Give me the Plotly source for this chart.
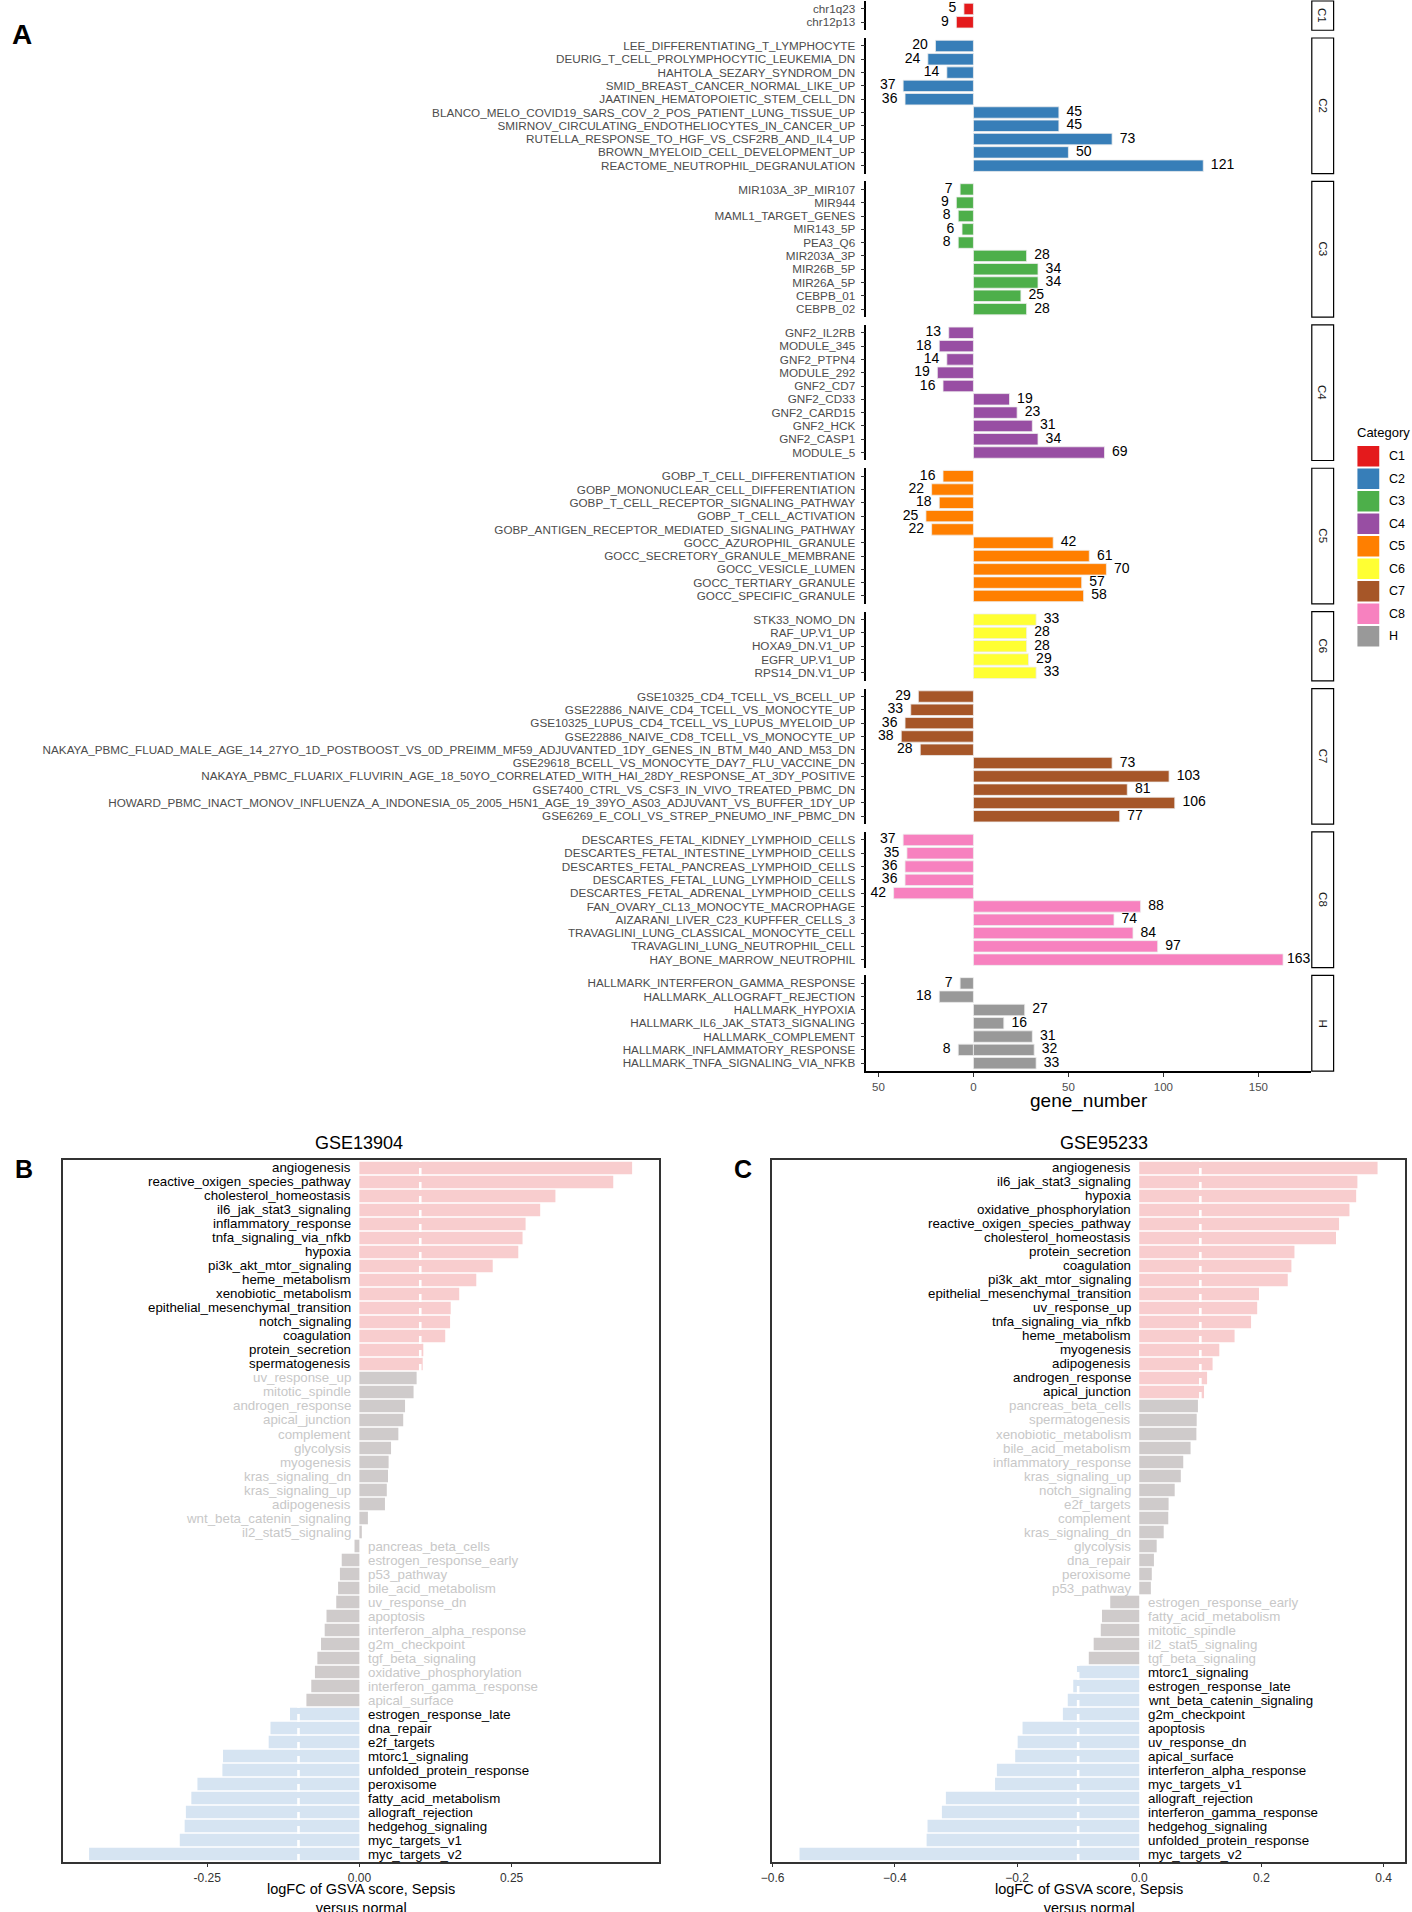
import plotly.graph_objects as go

W, H = 1412, 1912
FONT = "Liberation Sans, Arial, sans-serif"

# ---------------- Panel A data ----------------
categories = ["C1", "C2", "C3", "C4", "C5", "C6", "C7", "C8", "H"]
category_colors = ["#E41A1C", "#377EB8", "#4DAF4A", "#984EA3", "#FF7F00",
                   "#FFFF33", "#A65628", "#F781BF", "#999999"]

c1_terms = ["chr1q23", "chr12p13"]
c1_counts = [-5, -9]

c2_terms = ["LEE_DIFFERENTIATING_T_LYMPHOCYTE", "DEURIG_T_CELL_PROLYMPHOCYTIC_LEUKEMIA_DN",
            "HAHTOLA_SEZARY_SYNDROM_DN", "SMID_BREAST_CANCER_NORMAL_LIKE_UP",
            "JAATINEN_HEMATOPOIETIC_STEM_CELL_DN",
            "BLANCO_MELO_COVID19_SARS_COV_2_POS_PATIENT_LUNG_TISSUE_UP",
            "SMIRNOV_CIRCULATING_ENDOTHELIOCYTES_IN_CANCER_UP",
            "RUTELLA_RESPONSE_TO_HGF_VS_CSF2RB_AND_IL4_UP",
            "BROWN_MYELOID_CELL_DEVELOPMENT_UP", "REACTOME_NEUTROPHIL_DEGRANULATION"]
c2_counts = [-20, -24, -14, -37, -36, 45, 45, 73, 50, 121]

c3_terms = ["MIR103A_3P_MIR107", "MIR944", "MAML1_TARGET_GENES", "MIR143_5P", "PEA3_Q6",
            "MIR203A_3P", "MIR26B_5P", "MIR26A_5P", "CEBPB_01", "CEBPB_02"]
c3_counts = [-7, -9, -8, -6, -8, 28, 34, 34, 25, 28]

c4_terms = ["GNF2_IL2RB", "MODULE_345", "GNF2_PTPN4", "MODULE_292", "GNF2_CD7",
            "GNF2_CD33", "GNF2_CARD15", "GNF2_HCK", "GNF2_CASP1", "MODULE_5"]
c4_counts = [-13, -18, -14, -19, -16, 19, 23, 31, 34, 69]

c5_terms = ["GOBP_T_CELL_DIFFERENTIATION", "GOBP_MONONUCLEAR_CELL_DIFFERENTIATION",
            "GOBP_T_CELL_RECEPTOR_SIGNALING_PATHWAY", "GOBP_T_CELL_ACTIVATION",
            "GOBP_ANTIGEN_RECEPTOR_MEDIATED_SIGNALING_PATHWAY", "GOCC_AZUROPHIL_GRANULE",
            "GOCC_SECRETORY_GRANULE_MEMBRANE", "GOCC_VESICLE_LUMEN",
            "GOCC_TERTIARY_GRANULE", "GOCC_SPECIFIC_GRANULE"]
c5_counts = [-16, -22, -18, -25, -22, 42, 61, 70, 57, 58]

c6_terms = ["STK33_NOMO_DN", "RAF_UP.V1_UP", "HOXA9_DN.V1_UP", "EGFR_UP.V1_UP", "RPS14_DN.V1_UP"]
c6_counts = [33, 28, 28, 29, 33]

c7_terms = ["GSE10325_CD4_TCELL_VS_BCELL_UP", "GSE22886_NAIVE_CD4_TCELL_VS_MONOCYTE_UP",
            "GSE10325_LUPUS_CD4_TCELL_VS_LUPUS_MYELOID_UP",
            "GSE22886_NAIVE_CD8_TCELL_VS_MONOCYTE_UP",
            "NAKAYA_PBMC_FLUAD_MALE_AGE_14_27YO_1D_POSTBOOST_VS_0D_PREIMM_MF59_ADJUVANTED_1DY_GENES_IN_BTM_M40_AND_M53_DN",
            "GSE29618_BCELL_VS_MONOCYTE_DAY7_FLU_VACCINE_DN",
            "NAKAYA_PBMC_FLUARIX_FLUVIRIN_AGE_18_50YO_CORRELATED_WITH_HAI_28DY_RESPONSE_AT_3DY_POSITIVE",
            "GSE7400_CTRL_VS_CSF3_IN_VIVO_TREATED_PBMC_DN",
            "HOWARD_PBMC_INACT_MONOV_INFLUENZA_A_INDONESIA_05_2005_H5N1_AGE_19_39YO_AS03_ADJUVANT_VS_BUFFER_1DY_UP",
            "GSE6269_E_COLI_VS_STREP_PNEUMO_INF_PBMC_DN"]
c7_counts = [-29, -33, -36, -38, -28, 73, 103, 81, 106, 77]

c8_terms = ["DESCARTES_FETAL_KIDNEY_LYMPHOID_CELLS", "DESCARTES_FETAL_INTESTINE_LYMPHOID_CELLS",
            "DESCARTES_FETAL_PANCREAS_LYMPHOID_CELLS", "DESCARTES_FETAL_LUNG_LYMPHOID_CELLS",
            "DESCARTES_FETAL_ADRENAL_LYMPHOID_CELLS", "FAN_OVARY_CL13_MONOCYTE_MACROPHAGE",
            "AIZARANI_LIVER_C23_KUPFFER_CELLS_3", "TRAVAGLINI_LUNG_CLASSICAL_MONOCYTE_CELL",
            "TRAVAGLINI_LUNG_NEUTROPHIL_CELL", "HAY_BONE_MARROW_NEUTROPHIL"]
c8_counts = [-37, -35, -36, -36, -42, 88, 74, 84, 97, 163]

h_terms = ["HALLMARK_INTERFERON_GAMMA_RESPONSE", "HALLMARK_ALLOGRAFT_REJECTION",
           "HALLMARK_HYPOXIA", "HALLMARK_IL6_JAK_STAT3_SIGNALING", "HALLMARK_COMPLEMENT",
           "HALLMARK_INFLAMMATORY_RESPONSE", "HALLMARK_INFLAMMATORY_RESPONSE",
           "HALLMARK_TNFA_SIGNALING_VIA_NFKB"]
h_counts = [-7, -18, 27, 16, 31, -8, 32, 33]

a_ticks = [-50, 0, 50, 100, 150]
a_ticktext = ["50", "0", "50", "100", "150"]

# ---------------- Panels B / C data ----------------
b_terms = ["angiogenesis", "reactive_oxigen_species_pathway", "cholesterol_homeostasis",
           "il6_jak_stat3_signaling", "inflammatory_response", "tnfa_signaling_via_nfkb",
           "hypoxia", "pi3k_akt_mtor_signaling", "heme_metabolism", "xenobiotic_metabolism",
           "epithelial_mesenchymal_transition", "notch_signaling", "coagulation",
           "protein_secretion", "spermatogenesis", "uv_response_up", "mitotic_spindle",
           "androgen_response", "apical_junction", "complement", "glycolysis", "myogenesis",
           "kras_signaling_dn", "kras_signaling_up", "adipogenesis",
           "wnt_beta_catenin_signaling", "il2_stat5_signaling", "pancreas_beta_cells",
           "estrogen_response_early", "p53_pathway", "bile_acid_metabolism", "uv_response_dn",
           "apoptosis", "interferon_alpha_response", "g2m_checkpoint", "tgf_beta_signaling",
           "oxidative_phosphorylation", "interferon_gamma_response", "apical_surface",
           "estrogen_response_late", "dna_repair", "e2f_targets", "mtorc1_signaling",
           "unfolded_protein_response", "peroxisome", "fatty_acid_metabolism",
           "allograft_rejection", "hedgehog_signaling", "myc_targets_v1", "myc_targets_v2"]
b_values = [0.448, 0.417, 0.322, 0.297, 0.273, 0.268, 0.261, 0.219, 0.192, 0.164,
            0.150, 0.149, 0.141, 0.105, 0.104, 0.094, 0.089, 0.075, 0.072, 0.064,
            0.052, 0.048, 0.047, 0.045, 0.042, 0.014, 0.004, -0.008, -0.029, -0.032,
            -0.035, -0.038, -0.054, -0.057, -0.063, -0.069, -0.073, -0.079, -0.087, -0.114,
            -0.146, -0.149, -0.224, -0.225, -0.266, -0.276, -0.285, -0.287, -0.295, -0.444]
b_ticks = [-0.25, 0.0, 0.25]
b_ticktext = ["-0.25", "0.00", "0.25"]

c_terms = ["angiogenesis", "il6_jak_stat3_signaling", "hypoxia", "oxidative_phosphorylation",
           "reactive_oxigen_species_pathway", "cholesterol_homeostasis", "protein_secretion",
           "coagulation", "pi3k_akt_mtor_signaling", "epithelial_mesenchymal_transition",
           "uv_response_up", "tnfa_signaling_via_nfkb", "heme_metabolism", "myogenesis",
           "adipogenesis", "androgen_response", "apical_junction", "pancreas_beta_cells",
           "spermatogenesis", "xenobiotic_metabolism", "bile_acid_metabolism",
           "inflammatory_response", "kras_signaling_up", "notch_signaling", "e2f_targets",
           "complement", "kras_signaling_dn", "glycolysis", "dna_repair", "peroxisome",
           "p53_pathway", "estrogen_response_early", "fatty_acid_metabolism",
           "mitotic_spindle", "il2_stat5_signaling", "tgf_beta_signaling", "mtorc1_signaling",
           "estrogen_response_late", "wnt_beta_catenin_signaling", "g2m_checkpoint",
           "apoptosis", "uv_response_dn", "apical_surface", "interferon_alpha_response",
           "myc_targets_v1", "allograft_rejection", "interferon_gamma_response",
           "hedgehog_signaling", "unfolded_protein_response", "myc_targets_v2"]
c_values = [0.390, 0.357, 0.355, 0.344, 0.327, 0.322, 0.254, 0.249, 0.243, 0.196,
            0.193, 0.183, 0.156, 0.131, 0.120, 0.111, 0.106, 0.096, 0.094, 0.0935,
            0.084, 0.072, 0.068, 0.058, 0.048, 0.0475, 0.040, 0.0285, 0.024, 0.0205,
            0.019, -0.0475, -0.061, -0.063, -0.0746, -0.0826, -0.102, -0.108, -0.117, -0.125,
            -0.191, -0.199, -0.203, -0.233, -0.236, -0.3165, -0.323, -0.3465, -0.348, -0.556]
c_ticks = [-0.6, -0.4, -0.2, 0.0, 0.2, 0.4]
c_ticktext = ["\u22120.6", "\u22120.4", "\u22120.2", "0.0", "0.2", "0.4"]

threshold = 0.1

# ---------------- styles ----------------
UP_COL, DOWN_COL, NS_COL = "#F8CDCE", "#D6E4F2", "#CFCBCB"
NS_TXT = "#C8C8C8"

fig = go.Figure()
layout = {}
shapes = []
annotations = []


def px_x(p):
    return p / W


def px_y(p):
    return 1 - p / H


def paper_text(text, x, y, size, xanchor="center", yanchor="middle", angle=0, color="black"):
    annotations.append(dict(text=text, xref="paper", yref="paper", x=px_x(x), y=px_y(y),
                            xanchor=xanchor, yanchor=yanchor, textangle=angle,
                            showarrow=False, borderpad=0,
                            font=dict(family=FONT, size=size, color=color)))


# ---------------- Panel A ----------------
panelA = [(c1_terms, c1_counts), (c2_terms, c2_counts), (c3_terms, c3_counts),
          (c4_terms, c4_counts), (c5_terms, c5_counts), (c6_terms, c6_counts),
          (c7_terms, c7_counts), (c8_terms, c8_counts), (h_terms, h_counts)]
A_left, A_right = 862, 1310
A_range = [-56.4, 177.6]
unit, gap, cursor = 13.3, 7.75, 1.0
strip_x0, strip_x1 = 1311, 1333
label_off = 4.0
label_max = A_range[1] - 12.5   # keep count labels inside the panel

for i, (terms, counts) in enumerate(panelA):
    k = i + 1
    sfx = "" if k == 1 else str(k)
    order = list(dict.fromkeys(terms))
    n = len(order)
    top = cursor
    bot = cursor + (n + 0.2) * unit
    last = (i == len(panelA) - 1)
    col = category_colors[i]

    fig.add_trace(go.Bar(
        x=counts, y=terms, orientation="h", width=0.86,
        marker=dict(color=col, line=dict(color="#EEEEEE", width=0.8)),
        xaxis="x" + sfx, yaxis="y" + sfx, showlegend=False, hoverinfo="x+y"))
    fig.add_trace(go.Scatter(
        x=[min(c + label_off, label_max) if c > 0 else c - label_off for c in counts],
        y=terms, mode="text", text=[str(abs(c)) for c in counts],
        textposition=["middle right" if c > 0 else "middle left" for c in counts],
        textfont=dict(family=FONT, size=14, color="black"),
        cliponaxis=False, xaxis="x" + sfx, yaxis="y" + sfx, showlegend=False,
        hoverinfo="skip"))

    layout["xaxis" + sfx] = dict(
        domain=[px_x(A_left), px_x(A_right)], range=A_range, anchor="y" + sfx,
        showgrid=False, zeroline=False, fixedrange=True,
        showline=last, linecolor="black", linewidth=1.5,
        ticks="outside" if last else "", ticklen=4, tickcolor="#333333", tickwidth=1.2,
        tickmode="array", tickvals=a_ticks, ticktext=a_ticktext, showticklabels=last,
        tickfont=dict(family=FONT, size=11.5, color="#4D4D4D"))
    layout["yaxis" + sfx] = dict(
        domain=[px_y(bot), px_y(top)], anchor="x" + sfx, type="category",
        categoryorder="array", categoryarray=order, range=[n - 0.4, -0.6],
        tickmode="array", tickvals=order, ticktext=order,
        showgrid=False, zeroline=False, fixedrange=True,
        showline=True, linecolor="black", linewidth=1.5,
        ticks="outside", ticklen=4, tickcolor="#333333", tickwidth=1.2,
        ticklabelstandoff=3,
        tickfont=dict(family=FONT, size=11.7, color="#4D4D4D"))

    shapes.append(dict(type="rect", xref="paper", yref="paper",
                       x0=px_x(strip_x0), x1=px_x(strip_x1), y0=px_y(bot), y1=px_y(top),
                       line=dict(color="black", width=1.2), fillcolor="white", layer="below"))
    paper_text(categories[i], (strip_x0 + strip_x1) / 2, (top + bot) / 2, 11.5,
               angle=90, color="#1A1A1A")
    cursor = bot + gap

paper_text("gene_number", (A_left + A_right) / 2, 1101, 19)

# legend (drawn as keys)
paper_text("Category", 1356, 432, 13, xanchor="left")
for i, cat in enumerate(categories):
    ky = 446 + i * 22.5
    shapes.append(dict(type="rect", xref="paper", yref="paper",
                       x0=px_x(1357), x1=px_x(1379), y0=px_y(ky + 20.5), y1=px_y(ky),
                       line=dict(width=0), fillcolor=category_colors[i]))
    paper_text(cat, 1388, ky + 10.25, 12.5, xanchor="left")

paper_text("<b>A</b>", 11, 34, 28)


# ---------------- Panels B & C ----------------
def gsva_panel(k, terms, values, left, right, xr, tvals, ttext, title, title_x, letter, letter_x):
    sfx = str(k)
    n = len(terms)
    top, bot = 1160, 1862
    colors = [UP_COL if v > threshold else (DOWN_COL if v < -threshold else NS_COL) for v in values]
    fig.add_trace(go.Bar(x=values, y=terms, orientation="h", width=0.9,
                         marker=dict(color=colors, line=dict(width=0)),
                         xaxis="x" + sfx, yaxis="y" + sfx, showlegend=False))
    layout["xaxis" + sfx] = dict(
        domain=[px_x(left), px_x(right)], range=xr, anchor="y" + sfx,
        showgrid=False, zeroline=False, fixedrange=True,
        showline=True, mirror=True, linecolor="#333333", linewidth=2.2,
        ticks="outside", ticklen=3, tickcolor="#333333", tickwidth=1.2,
        tickmode="array", tickvals=tvals, ticktext=ttext, ticklabelstandoff=0,
        tickfont=dict(family=FONT, size=12, color="#333333"))
    layout["yaxis" + sfx] = dict(
        domain=[px_y(bot), px_y(top)], anchor="x" + sfx, type="category",
        categoryorder="array", categoryarray=terms, range=[n - 1 + 0.57, -0.57],
        showgrid=False, zeroline=False, fixedrange=True, showticklabels=False,
        showline=True, mirror=True, linecolor="#333333", linewidth=2.2, ticks="")
    for xv in (-threshold, threshold):
        shapes.append(dict(type="line", xref="x" + sfx, yref="y" + sfx + " domain",
                           x0=xv, x1=xv, y0=0, y1=1, layer="above",
                           line=dict(color="white", width=2.6, dash="8px,6px")))
    for j, (t, v) in enumerate(zip(terms, values)):
        annotations.append(dict(
            text=t, xref="x" + sfx, yref="y" + sfx, x=-0.012 if v > 0 else 0.012, y=j,
            xanchor="right" if v > 0 else "left", yanchor="middle", showarrow=False,
            borderpad=0,
            font=dict(family=FONT, size=13.3, color="black" if abs(v) > threshold else NS_TXT)))
    paper_text(title, title_x, 1143, 18)
    mid = (left + right) / 2
    paper_text("logFC of GSVA score, Sepsis<br>versus normal", mid, 1880, 14.5, yanchor="top")
    paper_text("<b>" + letter + "</b>", letter_x, 1169, 25)


gsva_panel(10, b_terms, b_values, 52, 653, [-0.4875, 0.492], b_ticks, b_ticktext,
           "GSE13904", 351, "B", 13)
gsva_panel(11, c_terms, c_values, 767, 1405, [-0.601, 0.435], c_ticks, c_ticktext,
           "GSE95233", 1102, "C", 738)

fig.update_layout(
    width=W, height=H, autosize=False,
    margin=dict(l=0, r=0, t=0, b=0),
    paper_bgcolor="white", plot_bgcolor="white",
    barmode="overlay", showlegend=False,
    font=dict(family=FONT, color="black"),
    shapes=shapes, annotations=annotations, **layout)

fig.write_html("out.html", config={"displayModeBar": False},
               post_script="document.body.style.margin='0';document.body.style.overflow='hidden';")
